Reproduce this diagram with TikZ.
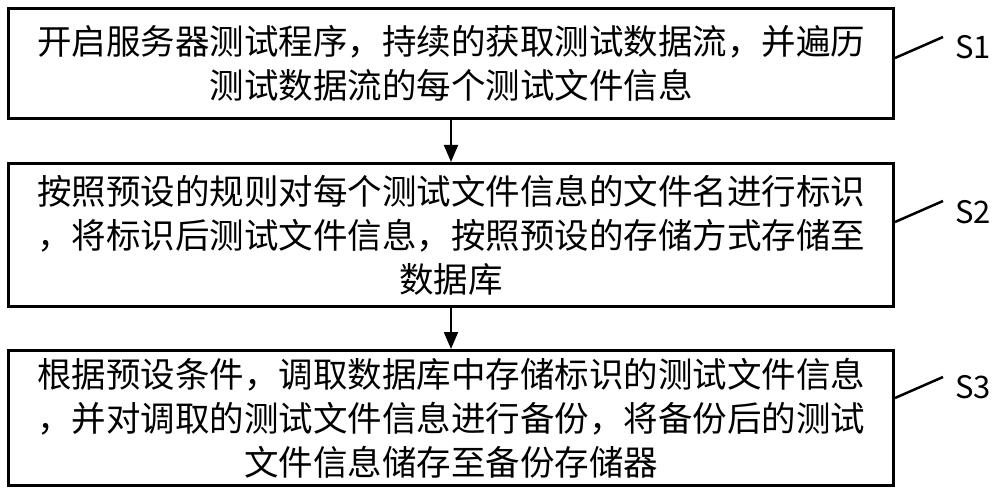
\documentclass[tikz,border=0pt]{standalone}
\usepackage{fontspec}
\newfontfamily\cjk{Noto Sans CJK SC}
\usetikzlibrary{arrows.meta}
\tikzset{
  stepbox/.style={draw=black, line width=3pt, minimum width=885pt, inner sep=0pt,
    align=center, font=\cjk\fontsize{34.5}{44}\selectfont},
  slabel/.style={inner sep=0pt, anchor=west, font=\cjk\fontsize{31}{31}\selectfont},
  flow/.style={line width=2pt, -{Triangle[width=14pt,length=17pt]}},
  leader/.style={line width=2.5pt}
}
\begin{document}
\begin{tikzpicture}[x=1pt,y=1pt]
\useasboundingbox[fill=white] (0,0) rectangle (1000,-494);
\node[stepbox, minimum height=110pt] (b1) at (451,-63.5)
  {开启服务器测试程序，持续的获取测试数据流，并遍历\\测试数据流的每个测试文件信息};
\node[stepbox, minimum height=143pt] (b2) at (451,-235)
  {按照预设的规则对每个测试文件信息的文件名进行标识\\，将标识后测试文件信息，按照预设的存储方式存储至\\数据库};
\node[stepbox, minimum height=135pt] (b3) at (451,-418)
  {根据预设条件，调取数据库中存储标识的测试文件信息\\，并对调取的测试文件信息进行备份，将备份后的测试\\文件信息储存至备份存储器};
\node[slabel] (s1) at (955,-47) {S1};
\node[slabel] (s2) at (955,-212) {S2};
\node[slabel] (s3) at (955,-387) {S3};
\draw[flow] (b1.south) -- (b2.north);
\draw[flow] (b2.south) -- (b3.north);
\draw[leader] ([yshift=5.5pt]b1.east) -- ([shift={(-12pt,10pt)}]s1.west);
\draw[leader] ([yshift=13pt]b2.east) -- ([shift={(-12pt,11pt)}]s2.west);
\draw[leader] ([yshift=20pt]b3.east) -- ([shift={(-12pt,10pt)}]s3.west);
\end{tikzpicture}
\end{document}
